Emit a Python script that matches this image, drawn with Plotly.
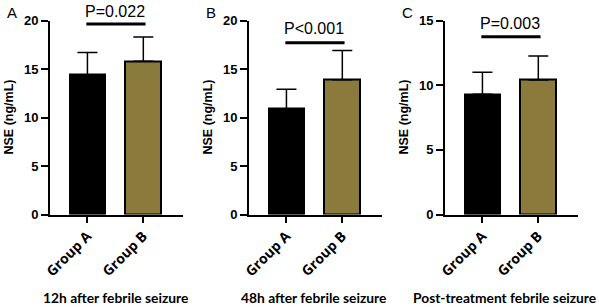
import plotly.graph_objects as go

groups = ["Group A", "Group B"]
panel_letters = ["A", "B", "C"]
panel_titles = ["12h after febrile seizure", "48h after febrile seizure", "Post-treatment febrile seizure"]
y_title = "NSE (ng/mL)"
means_A = [14.4, 15.8]
sd_A = [2.3, 2.5]
means_B = [10.9, 13.9]
sd_B = [2.0, 3.0]
means_C = [9.3, 10.4]
sd_C = [1.7, 1.85]
p_labels = ["P=0.022", "P<0.001", "P=0.003"]
y_max = [20, 20, 15]
y_dtick = [5, 5, 5]

means = [means_A, means_B, means_C]
sds = [sd_A, sd_B, sd_C]

W, H = 599, 307
colors = ["#000000", "#8a7a3c"]
x_px = [(50, 183), (249, 382), (445, 578)]
title_cx = [115.5, 313.5, 504.5]
y_bot_px, y_top_px = 214.5, 20.5
sig_line_y = [19.65, 17.7, 13.75]
sig_text_px = [11, 28, 23]


def ypaper(px):
    return 1 - px / H


fig = go.Figure()
for i in range(3):
    xa = "x" if i == 0 else f"x{i+1}"
    ya = "y" if i == 0 else f"y{i+1}"
    fig.add_trace(go.Bar(
        x=[0, 1], y=means[i],
        marker=dict(color=colors, line=dict(color="black", width=2)),
        width=0.64,
        error_y=dict(type="data", array=sds[i], arrayminus=[0, 0], symmetric=False,
                     color="black", thickness=1.5, width=10),
        xaxis=xa, yaxis=ya, showlegend=False, hoverinfo="skip",
    ))
    x0, x1 = x_px[i]
    xkey = "xaxis" if i == 0 else f"xaxis{i+1}"
    ykey = "yaxis" if i == 0 else f"yaxis{i+1}"
    fig.layout[xkey] = dict(
        domain=[x0 / W, x1 / W], range=[-0.67, 1.71], anchor=ya,
        tickmode="array", tickvals=[0, 1], ticktext=groups, tickangle=-45,
        ticks="outside", ticklen=6, tickwidth=2, tickcolor="black",
        showline=True, linecolor="black", linewidth=2, showgrid=False, zeroline=False,
        tickfont=dict(family="Open Sans", size=14, color="black", weight="bold"),
        automargin=False, fixedrange=True,
    )
    fig.layout[ykey] = dict(
        domain=[ypaper(y_bot_px), ypaper(y_top_px)], range=[0, y_max[i]], anchor=xa,
        dtick=y_dtick[i], ticks="outside", ticklen=7, tickwidth=2, tickcolor="black",
        showline=True, linecolor="black", linewidth=2, showgrid=False, zeroline=False,
        tickfont=dict(family="Liberation Sans", size=13, color="black", weight="bold"),
        automargin=False, fixedrange=True,
    )
    fig.add_shape(type="line", xref=xa, yref=ya, x0=-0.02, x1=1.04,
                  y0=sig_line_y[i], y1=sig_line_y[i], line=dict(color="black", width=3))
    xc = x0 + (0.5 + 0.67) / (1.71 + 0.67) * (x1 - x0)
    fig.add_annotation(xref="paper", yref="paper", x=xc / W, y=ypaper(sig_text_px[i]),
                       text=p_labels[i], showarrow=False, xanchor="center", yanchor="middle",
                       font=dict(family="Liberation Sans", size=16, color="black"))
    fig.add_annotation(xref="paper", yref="paper", x=(x0 - 45) / W, y=ypaper(12),
                       text=panel_letters[i], showarrow=False, xanchor="left", yanchor="middle",
                       font=dict(family="Liberation Sans", size=15, color="black"))
    fig.add_annotation(xref="paper", yref="paper", x=(x0 - 41) / W,
                       y=ypaper((y_bot_px + y_top_px) / 2), text=y_title, textangle=-90,
                       showarrow=False, xanchor="center", yanchor="middle",
                       font=dict(family="Liberation Sans", size=12.5, color="black", weight="bold"))
    fig.add_annotation(xref="paper", yref="paper", x=title_cx[i] / W, y=ypaper(297),
                       text=panel_titles[i], showarrow=False, xanchor="center", yanchor="middle",
                       font=dict(family="Lato", size=13.8, color="black", weight="bold"))

fig.update_layout(
    width=W, height=H, margin=dict(l=0, r=0, t=0, b=0),
    paper_bgcolor="white", plot_bgcolor="white", bargap=0, hovermode=False,
)
fig.write_html("out.html", config={"displayModeBar": False},
               post_script="document.body.style.margin='0';")
